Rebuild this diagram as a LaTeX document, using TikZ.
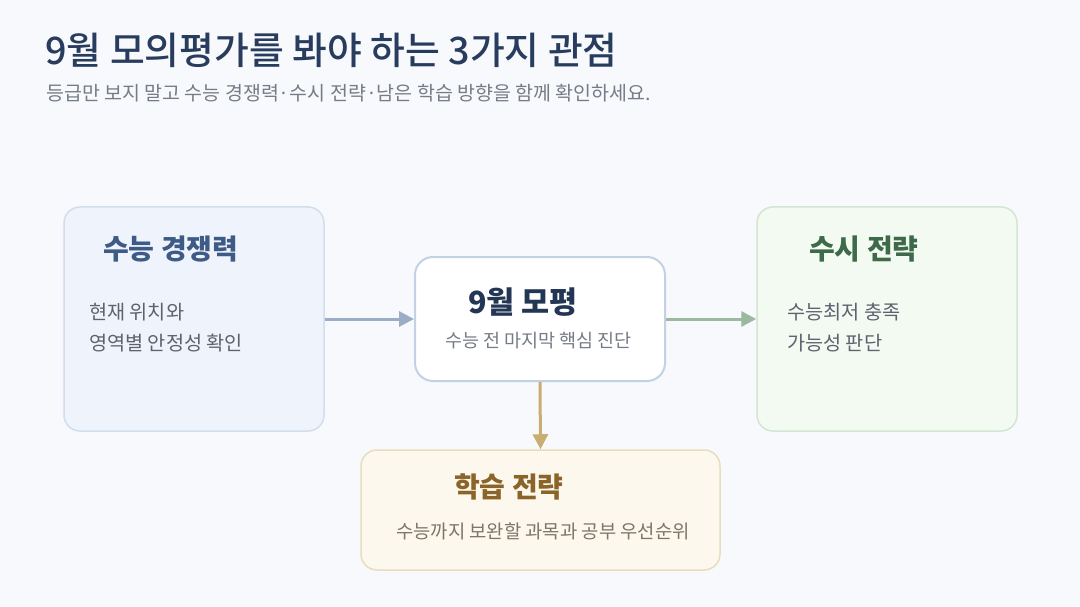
\documentclass[tikz,border=0pt]{standalone}
\usepackage{fontspec}
\setmainfont{Noto Sans CJK KR}
\newfontfamily\titlefont{Noto Sans CJK KR Medium}
\usetikzlibrary{arrows.meta}

\newlength{\du}
\setlength{\du}{1pt}

\definecolor{bgcolor}{RGB}{247,249,253}
\definecolor{titlecolor}{RGB}{40,60,94}
\definecolor{subcolor}{RGB}{118,124,134}
\definecolor{bodycolor}{RGB}{92,99,110}
\definecolor{bluefill}{RGB}{239,244,252}
\definecolor{bluedraw}{RGB}{210,222,236}
\definecolor{bluetext}{RGB}{62,90,134}
\definecolor{midfill}{RGB}{255,255,255}
\definecolor{middraw}{RGB}{194,210,228}
\definecolor{midtext}{RGB}{35,55,85}
\definecolor{greenfill}{RGB}{243,250,242}
\definecolor{greendraw}{RGB}{212,230,210}
\definecolor{greentext}{RGB}{62,106,74}
\definecolor{goldfill}{RGB}{252,248,237}
\definecolor{golddraw}{RGB}{232,221,188}
\definecolor{goldtext}{RGB}{138,100,40}
\definecolor{goldbody}{RGB}{125,117,101}
\definecolor{bluearrow}{RGB}{154,173,196}
\definecolor{greenarrow}{RGB}{156,184,159}
\definecolor{goldarrow}{RGB}{201,174,114}

\tikzset{
  panel/.style={draw, line width=1.5\du, rounded corners=16\du, inner sep=0pt},
  headtext/.style={anchor=west, inner sep=0pt, font=\fontsize{28}{32}\selectfont\bfseries},
  bodytext/.style={anchor=west, inner sep=0pt, text=bodycolor, font=\fontsize{19.7}{24}\selectfont},
  flow/.style={line width=3\du, -{Triangle[length=15pt,width=15pt]}}
}

\begin{document}
\begin{tikzpicture}
\pgftransformxscale{1.000000}
\pgftransformyscale{-1.000000}
% background
\fill[bgcolor] (0\du,0\du) rectangle (1080\du,607\du);
\useasboundingbox (0\du,0\du) rectangle (1080\du,607\du);
% heading
\node[anchor=west, inner sep=0pt, text=titlecolor, font=\fontsize{37.8}{42}\titlefont] (title) at (45\du,50\du) {9월 모의평가를 봐야 하는 3가지 관점};
\node[anchor=west, inner sep=0pt, text=subcolor, font=\fontsize{19.5}{23}\selectfont] (subtitle) at (46\du,93\du) {등급만 보지 말고 수능 경쟁력·수시 전략·남은 학습 방향을 함께 확인하세요.};
% panels
\node[panel, fill=bluefill, draw=bluedraw, minimum width=260\du, minimum height=224\du] (exam) at (194\du,319\du) {};
\node[panel, fill=midfill, draw=middraw, line width=2\du, rounded corners=18\du, minimum width=250\du, minimum height=124\du] (mock) at (540\du,319\du) {};
\node[panel, fill=greenfill, draw=greendraw, minimum width=260\du, minimum height=224\du] (early) at (887\du,319\du) {};
\node[panel, fill=goldfill, draw=golddraw, minimum width=359\du, minimum height=120\du] (study) at (540.5\du,510\du) {};
% left panel
\node[headtext, text=bluetext] (examhead) at (103\du,249\du) {수능 경쟁력};
\node[bodytext] (examline1) at (89\du,312\du) {현재 위치와};
\node[bodytext] (examline2) at (89\du,343\du) {영역별 안정성 확인};
% middle panel
\node[headtext, text=midtext, font=\fontsize{30.5}{35}\selectfont\bfseries] (mockhead) at (468\du,302\du) {9월 모평};
\node[anchor=west, inner sep=0pt, text=subcolor, font=\fontsize{18.5}{22}\selectfont] (mockline) at (445\du,341\du) {수능 전 마지막 핵심 진단};
% right panel
\node[headtext, text=greentext] (earlyhead) at (809\du,249\du) {수시 전략};
\node[bodytext] (earlyline1) at (787\du,312\du) {수능최저 충족};
\node[bodytext] (earlyline2) at (787\du,343\du) {가능성 판단};
% bottom panel
\node[headtext, text=goldtext] (studyhead) at (454\du,487\du) {학습 전략};
\node[anchor=west, inner sep=0pt, text=goldbody, font=\fontsize{18.8}{22}\selectfont] (studyline) at (396\du,531\du) {수능까지 보완할 과목과 공부 우선순위};
% connectors
\draw[flow, bluearrow] (exam.east) -- (mock.west);
\draw[flow, greenarrow] (mock.east) -- (early.west);
\draw[flow, goldarrow] (mock.south) -- (study.north);
\end{tikzpicture}
\end{document}
